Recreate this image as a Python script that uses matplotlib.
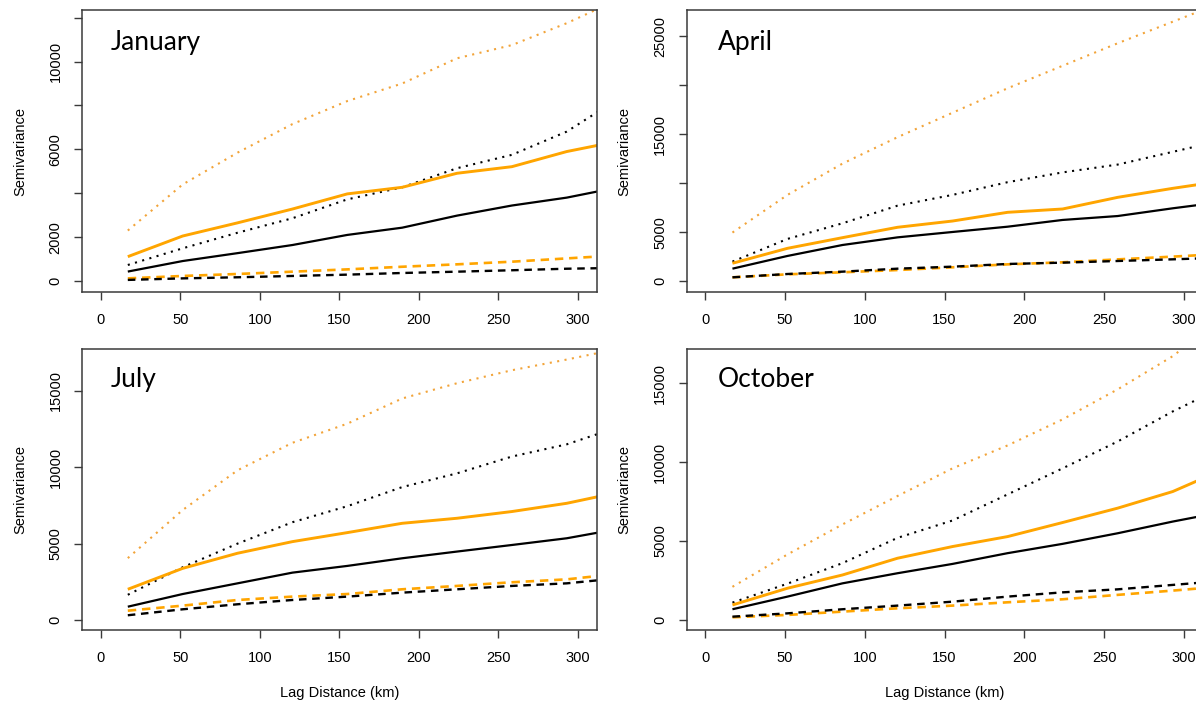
import matplotlib
matplotlib.use("Agg")
import matplotlib.pyplot as plt

# ---------------- data ----------------
lags = [17, 51.5, 86, 120.5, 155, 189.5, 224, 258.5, 293, 327.5]
x_ticks = [0, 50, 100, 150, 200, 250, 300]

months = ["January", "April", "July", "October"]

jan_orange_dotted = [2300, 4400, 5850, 7150, 8200, 9000, 10150, 10750, 11750, 12900]
jan_black_dotted = [730, 1490, 2200, 2860, 3720, 4270, 5140, 5750, 6810, 8400]
jan_orange_solid = [1110, 2050, 2650, 3280, 3970, 4270, 4910, 5210, 5900, 6400]
jan_black_solid = [430, 910, 1270, 1640, 2100, 2430, 2980, 3440, 3800, 4300]
jan_orange_dashed = [120, 230, 320, 425, 530, 650, 760, 880, 1030, 1180]
jan_black_dashed = [50, 120, 170, 230, 290, 365, 425, 490, 560, 600]

apr_orange_dotted = [4950, 8800, 12000, 14700, 17200, 19700, 22000, 24300, 26500, 28700]
apr_black_dotted = [1980, 4300, 5900, 7700, 8800, 10100, 11100, 11900, 13200, 14500]
apr_orange_solid = [1810, 3340, 4430, 5490, 6130, 7020, 7360, 8550, 9470, 10300]
apr_black_solid = [1260, 2560, 3680, 4460, 5010, 5550, 6240, 6640, 7430, 8150]
apr_orange_dashed = [375, 680, 890, 1120, 1400, 1700, 1910, 2210, 2490, 2800]
apr_black_dashed = [375, 715, 955, 1260, 1465, 1740, 1875, 2045, 2215, 2400]

jul_orange_dotted = [4050, 7200, 9800, 11600, 12850, 14500, 15500, 16350, 17050, 17800]
jul_black_dotted = [1650, 3450, 5000, 6400, 7450, 8700, 9600, 10700, 11500, 12700]
jul_orange_solid = [2010, 3380, 4370, 5130, 5720, 6330, 6660, 7100, 7640, 8400]
jul_black_solid = [870, 1700, 2400, 3100, 3540, 4040, 4480, 4910, 5350, 6000]
jul_orange_dashed = [610, 940, 1310, 1530, 1700, 2010, 2230, 2470, 2660, 3050]
jul_black_dashed = [310, 700, 1030, 1310, 1530, 1790, 2010, 2230, 2400, 2750]

oct_orange_dotted = [2100, 4150, 6050, 7850, 9600, 11050, 12700, 14600, 16700, 19400]
oct_black_dotted = [1100, 2300, 3600, 5200, 6300, 7950, 9600, 11300, 13200, 14900]
oct_orange_solid = [950, 2010, 2850, 3910, 4650, 5280, 6170, 7080, 8130, 9650]
oct_black_solid = [680, 1480, 2320, 2960, 3550, 4230, 4820, 5490, 6230, 6900]
oct_orange_dashed = [170, 320, 530, 740, 910, 1120, 1310, 1590, 1860, 2150]
oct_black_dashed = [210, 420, 680, 910, 1160, 1480, 1750, 1940, 2220, 2500]

y_ticks = {
    "January": [0, 2000, 4000, 6000, 8000, 10000, 12000],
    "April": [0, 5000, 10000, 15000, 20000, 25000],
    "July": [0, 5000, 10000, 15000],
    "October": [0, 5000, 10000, 15000],
}
y_tick_labels = {
    "January": ["0", "2000", "", "6000", "", "10000", ""],
    "April": ["0", "5000", "", "15000", "", "25000"],
    "July": ["0", "5000", "10000", "15000"],
    "October": ["0", "5000", "10000", "15000"],
}

series = {
    "January": (jan_orange_dashed, jan_black_dashed, jan_black_dotted, jan_orange_dotted, jan_black_solid, jan_orange_solid),
    "April": (apr_orange_dashed, apr_black_dashed, apr_black_dotted, apr_orange_dotted, apr_black_solid, apr_orange_solid),
    "July": (jul_orange_dashed, jul_black_dashed, jul_black_dotted, jul_orange_dotted, jul_black_solid, jul_orange_solid),
    "October": (oct_orange_dashed, oct_black_dashed, oct_black_dotted, oct_orange_dotted, oct_black_solid, oct_orange_solid),
}

# ---------------- layout / style ----------------
W, H = 1196, 703
fig = plt.figure(figsize=(W / 100, H / 100), dpi=100)
plt.rcParams["font.family"] = ["Liberation Sans", "DejaVu Sans"]

ORANGE = "#FFA500"
BOX = "#3a3a3a"

# axes boxes in pixels: (left, top, right, bottom)
boxes = {
    "January": (82, 10, 597, 292),
    "April": (686.5, 10, 1203, 292),
    "July": (82, 349, 597, 630),
    "October": (686.5, 349, 1203, 630),
}
ylims = {
    "January": (-501, 12350),
    "April": (-1125, 27700),
    "July": (-655, 17740),
    "October": (-634, 17155),
}

styles = [
    dict(color=ORANGE, lw=1.9, ls=(0, (3.2, 2.2))),
    dict(color="black", lw=1.7, ls=(0, (3.2, 2.4))),
    dict(color="black", lw=1.5, ls=(0, (1, 2.6))),
    dict(color="#F2A43A", lw=1.5, ls=(0, (1, 2.6))),
    dict(color="black", lw=1.6, ls="-"),
    dict(color=ORANGE, lw=2.1, ls="-"),
]

for m in months:
    l, t, r, b = boxes[m]
    ax = fig.add_axes([l / W, 1 - b / H, (r - l) / W, (b - t) / H])
    for data, st in zip(series[m], styles):
        ax.plot(lags, data, color=st["color"], lw=st["lw"], linestyle=st["ls"],
                solid_capstyle="butt", dash_capstyle="butt")
    ax.set_xlim(-11.8, 312)
    ax.set_ylim(*ylims[m])
    ax.set_xticks(x_ticks)
    ax.set_xticklabels([str(v) for v in x_ticks])
    ax.set_yticks(y_ticks[m])
    ax.set_yticklabels(y_tick_labels[m], rotation=90, va="center")
    ax.tick_params(axis="both", direction="out", length=6, width=1.0,
                   color=BOX, labelsize=10.5, labelcolor="black")
    ax.tick_params(axis="x", pad=9)
    ax.tick_params(axis="y", pad=8)
    for sp in ax.spines.values():
        sp.set_color(BOX)
        sp.set_linewidth(1.1)
    ax.text(0.055 if m in ("January", "July") else 0.06, 0.885 if m in ("January", "April") else 0.89,
            m, transform=ax.transAxes, fontsize=19, family=["Lato", "DejaVu Sans"],
            ha="left", va="center")
    # y label
    fig.text((l - 62) / W, 1 - ((t + b) / 2) / H, "Semivariance", rotation=90,
             ha="center", va="center", fontsize=10.5)
    if m in ("July", "October"):
        fig.text(((l + min(r, l + 516)) / 2) / W, 1 - 693 / H, "Lag Distance (km)",
                 ha="center", va="center", fontsize=10.5)

fig.savefig("out.png", dpi=100)
